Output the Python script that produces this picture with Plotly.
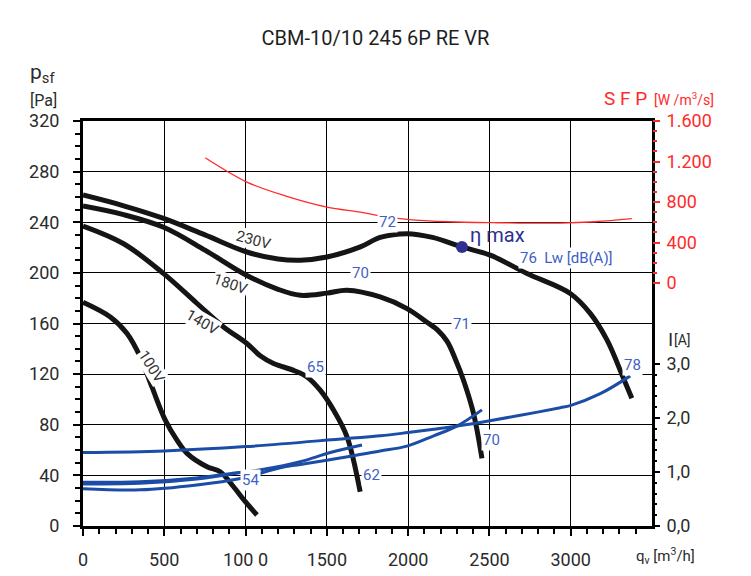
import plotly.graph_objects as go

# fan curves: static pressure p_sf [Pa] against airflow q_v [m3/h], one per voltage
q_230 = [0, 250, 496, 750, 1008, 1200, 1337, 1500, 1706, 1828, 1993, 2150, 2331, 2505, 2731, 2997, 3120, 3223, 3325, 3376]
p_230 = [261.5, 253, 243, 230, 216.5, 211, 210, 212.5, 220.5, 228, 231, 228, 220.5, 214, 199.5, 183.7, 168, 147, 116.6, 101]
q_180 = [0, 250, 496, 750, 1008, 1200, 1337, 1500, 1624, 1828, 1993, 2116, 2180, 2239, 2290, 2341, 2402, 2454]
p_180 = [252.8, 246, 236, 218, 198, 187, 182.3, 184, 186.3, 181, 171.8, 161, 155, 146, 132, 115, 89, 53.5]
q_140 = [0, 250, 496, 700, 865, 1008, 1090, 1172, 1295, 1378, 1459, 1541, 1624, 1705]
p_140 = [237, 223, 199.4, 176, 157.3, 144.2, 134.5, 128.4, 123, 117.8, 107.3, 91.6, 70.5, 27]
q_100 = [0, 168, 271, 352, 424, 506, 578, 640, 763, 844, 926, 1000, 1070]
p_100 = [176.8, 165.2, 152.1, 133.6, 109.9, 83.7, 67.9, 57.4, 46.8, 42.9, 31, 19, 8.7]

# specific fan power SFP [W/m3/s]
q_sfp = [752, 1008, 1254, 1500, 1706, 1828, 1993, 2250, 2525, 2935, 3150, 3376]
sfp = [1237, 997, 856, 750, 700, 662, 629, 605, 596, 592, 605, 635]

# current I [A]
q_i230 = [0, 500, 1000, 1620, 1830, 2000, 2157, 2300, 2485, 2690, 2936, 2997, 3182, 3366]
i_230 = [1.36, 1.39, 1.47, 1.62, 1.67, 1.73, 1.79, 1.85, 1.94, 2.05, 2.19, 2.23, 2.45, 2.78]
q_i180 = [0, 352, 700, 968, 1214, 1337, 1664, 1828, 1993, 2157, 2300, 2454]
i_180 = [0.69, 0.67, 0.76, 0.88, 1.08, 1.14, 1.30, 1.39, 1.48, 1.67, 1.85, 2.15]
q_i140 = [0, 350, 700, 906, 1111, 1336, 1521, 1716]
i_140 = [0.81, 0.82, 0.89, 0.97, 1.05, 1.19, 1.36, 1.5]
q_i100 = [0, 350, 700, 968]
i_100 = [0.78, 0.79, 0.87, 0.99]

# best efficiency point
q_eta, p_eta = 2331, 220.5

# noise labels Lw [dB(A)]: (text, q, p)
noise_labels = [("72", 1873, 240), ("70", 1705, 200), ("71", 2331, 160), ("65", 1429, 126),
                ("54", 1030, 36), ("62", 1776, 40), ("70", 2515, 68), ("78", 3382, 127.5)]
# voltage labels: (text, q, p, angle)
volt_labels = [("230V", 1049, 226, 15), ("180V", 906, 191.5, 19), ("140V", 732, 161.3, 30),
               ("100V", 424, 125.7, 58)]

x_ticks = [0, 500, 1000, 1500, 2000, 2500, 3000]
x_ticktext = ["0", "500", "100 0", "1500", "2000", "2500", "3000"]
p_ticks = list(range(0, 321, 40))
sfp_ticks = [0, 400, 800, 1200, 1600]
sfp_ticktext = ["0", "400", "800", "1.200", "1.600"]
i_ticks = [0, 1, 2, 3]
i_ticktext = ["0,0", "1,0", "2,0", "3,0"]

W, H = 751, 576
ML, MR, MT, MB = 83, 99, 121, 50
FONT = "Roboto"
DARK = "#2b2b2b"
RED = "#ff2a2a"
BLUE = "#1b4ca6"
LBLUE = "#3f5fc6"


def paper(px, py):
    return (px - ML) / (W - ML - MR), (H - MB - py) / (H - MT - MB)


fig = go.Figure()
for q, p in [(q_230, p_230), (q_180, p_180), (q_140, p_140), (q_100, p_100)]:
    fig.add_trace(go.Scatter(x=q, y=p, mode="lines", line=dict(color="#151515", width=5, shape="spline"),
                             hoverinfo="skip"))
fig.add_trace(go.Scatter(x=q_sfp, y=sfp, yaxis="y2", mode="lines",
                         line=dict(color=RED, width=1.3, shape="spline"), hoverinfo="skip"))
for q, i in [(q_i230, i_230), (q_i180, i_180), (q_i140, i_140), (q_i100, i_100)]:
    fig.add_trace(go.Scatter(x=q, y=i, yaxis="y3", mode="lines",
                             line=dict(color=BLUE, width=3, shape="spline"), hoverinfo="skip"))
fig.add_trace(go.Scatter(x=[q_eta], y=[p_eta], mode="markers",
                         marker=dict(color="#2e3192", size=12), hoverinfo="skip"))

ann = []
for t, q, p in noise_labels:
    ann.append(dict(x=q, y=p, text=t, showarrow=False, bgcolor="white", borderpad=1,
                    font=dict(family=FONT, size=15, color=LBLUE)))
for t, q, p, a in volt_labels:
    ann.append(dict(x=q, y=p, text=t, showarrow=False, textangle=a, bgcolor="white", borderpad=0,
                    font=dict(family=FONT, size=15, color="#333333")))
ann.append(dict(x=q_eta, y=p_eta, text="η max", showarrow=False, xanchor="left", yanchor="bottom",
                xshift=6, yshift=-2, font=dict(family=FONT, size=20, color="#2e3192")))
ann.append(dict(x=2977, y=212, text="76  Lw [dB(A)]", showarrow=False, bgcolor="white",
                font=dict(family=FONT, size=15, color=LBLUE)))


def ptxt(px, py, text, size, color=DARK, xanchor="left"):
    x, y = paper(px, py)
    ann.append(dict(x=x, y=y, xref="paper", yref="paper", text=text, showarrow=False,
                    xanchor=xanchor, yanchor="middle", font=dict(family=FONT, size=size, color=color)))


ptxt(28, 73, "p<sub>sf</sub>", 21)
ptxt(28, 100, "[Pa]", 16)
ptxt(602, 98, "S F P", 19, RED)
ptxt(652, 99, "[W /m<sup>3</sup>/s]", 14, RED)
ptxt(666, 339, "I", 19)
ptxt(672, 340, "[A]", 14)
ptxt(634, 556, "q<sub>v</sub> [m<sup>3</sup>/h]", 15)

tickfont = dict(family=FONT, size=18, color=DARK)
fig.update_layout(
    width=W, height=H, margin=dict(l=ML, r=MR, t=MT, b=MB, autoexpand=False),
    paper_bgcolor="white", plot_bgcolor="white", showlegend=False,
    title=dict(text="CBM-10/10 245 6P RE VR", x=0.5, xanchor="center", y=1 - 38 / H, yanchor="middle",
               font=dict(family=FONT, size=20, color="#1e1e1e")),
    xaxis=dict(range=[0, 3500], tickvals=x_ticks, ticktext=x_ticktext, showgrid=True, gridcolor="black",
               gridwidth=1, zeroline=False, showline=True, linecolor="black", linewidth=3, mirror=True,
               ticks="outside", ticklen=7, tickwidth=2, tickcolor="black", tickfont=tickfont,
               ticklabelstandoff=8, automargin=False,
               minor=dict(tickmode="array", tickvals=[v for v in range(100, 3500, 100) if v % 500],
                          ticks="outside", ticklen=5, tickwidth=2, tickcolor="black", showgrid=False)),
    yaxis=dict(range=[0, 320], tickvals=p_ticks, showgrid=True, gridcolor="black", gridwidth=1,
               zeroline=False, showline=True, linecolor="black", linewidth=3, mirror=True,
               ticks="outside", ticklen=7, tickwidth=2, tickcolor="black", tickfont=tickfont,
               ticklabelstandoff=10, automargin=False,
               minor=dict(tickmode="array", tickvals=[v for v in range(10, 320, 10) if v % 40],
                          ticks="outside", ticklen=5, tickwidth=2, tickcolor="black", showgrid=False)),
    yaxis2=dict(range=[-2400, 1600], overlaying="y", side="right", anchor="x", tickvals=sfp_ticks,
                ticktext=sfp_ticktext, showgrid=False, zeroline=False, showline=False,
                ticks="outside", ticklen=7, tickwidth=2, tickcolor=RED, automargin=False,
                tickfont=dict(family=FONT, size=18, color=RED), ticklabelstandoff=3,
                minor=dict(tickmode="array", tickvals=[v for v in range(100, 1600, 100) if v % 400],
                           ticks="outside", ticklen=4, tickwidth=2, tickcolor=RED, showgrid=False)),
    yaxis3=dict(range=[0, 7.5], overlaying="y", side="right", anchor="x", tickvals=i_ticks,
                ticktext=i_ticktext, showgrid=False, zeroline=False, showline=False,
                ticks="outside", ticklen=7, tickwidth=2, tickcolor="black", tickfont=tickfont,
                ticklabelstandoff=3, automargin=False,
                minor=dict(tickmode="array", tickvals=[round(k * 0.2, 1) for k in range(1, 15) if k % 5],
                           ticks="outside", ticklen=4, tickwidth=2, tickcolor="black", showgrid=False)),
    annotations=ann,
)

# the page body has a default 8px margin; drop it so the figure sits at the window origin
fig.write_html("out.html", config={"displayModeBar": False},
               post_script="document.body.style.margin='0px';")
